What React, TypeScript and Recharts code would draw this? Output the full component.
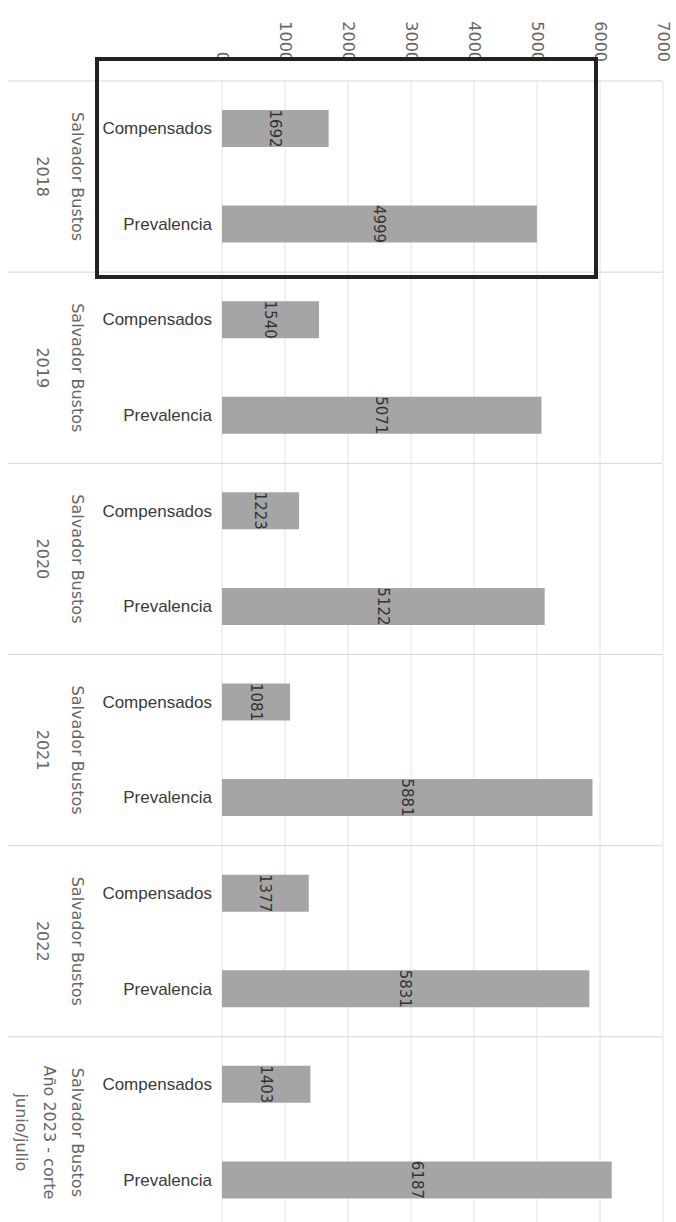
import { BarChart, Bar, XAxis, YAxis, CartesianGrid, LabelList } from 'recharts';

// outer group labels, one list of lines per group
const groupLabels: string[][] = [
  ['Salvador Bustos', '2018'],
  ['Salvador Bustos', '2019'],
  ['Salvador Bustos', '2020'],
  ['Salvador Bustos', '2021'],
  ['Salvador Bustos', '2022'],
  ['Salvador Bustos', 'Año 2023 - corte', 'junio/julio'],
];
const seriesNames = ['Compensados', 'Prevalencia'];
const compensados = [1692, 1540, 1223, 1081, 1377, 1403];
const prevalencia = [4999, 5071, 5122, 5881, 5831, 6187];
const xTicks = [0, 1000, 2000, 3000, 4000, 5000, 6000, 7000];

const rows = groupLabels.flatMap((g, i) => [
  { name: seriesNames[0], group: i, value: compensados[i] },
  { name: seriesNames[1], group: i, value: prevalencia[i] },
]);

const W = 676;
const H = 1228;

const XTick = ({ x, y, payload }: any) => (
  <text
    transform={`translate(${x},${y}) rotate(90)`}
    textAnchor="end"
    dominantBaseline="central"
    fontSize={16}
    fontFamily="DejaVu Sans"
    fill="#666"
  >
    {payload.value}
  </text>
);

const YTick = ({ x, y, payload }: any) => {
  const half = payload.offset || 47.5;
  const row = rows[payload.index];
  const first = payload.index % 2 === 0;
  const lines = groupLabels[row.group];
  const step = lines.length > 2 ? 28 : 35;
  const gy = y + half; // centre of the group (between its two bars)
  return (
    <g>
      <text
        x={x}
        y={y}
        textAnchor="end"
        dominantBaseline="central"
        fontSize={17}
        fontFamily="Liberation Sans"
        fill="#3a3a3a"
      >
        {payload.value}
      </text>
      {first && (
        <>
          <line x1={8} x2={662} y1={y - half} y2={y - half} stroke="#d6d6d6" />
          {lines.map((t, k) => (
            <text
              key={k}
              transform={`translate(${77 - k * step},${gy}) rotate(90)`}
              textAnchor="middle"
              dominantBaseline="central"
              fontSize={16}
              fontFamily="DejaVu Sans"
              fill="#666"
            >
              {t}
            </text>
          ))}
        </>
      )}
    </g>
  );
};

export default function App() {
  return (
    <div style={{ position: 'absolute', left: 0, top: 0, width: W, height: 1222, overflow: 'hidden', background: '#fff' }}>
      <BarChart
        width={W}
        height={H}
        data={rows}
        layout="vertical"
        margin={{ top: 0, right: 13, bottom: 0, left: 0 }}
        barSize={37}
      >
        <CartesianGrid horizontal={false} stroke="#e2e2e2" />
        <XAxis
          type="number"
          orientation="top"
          domain={[0, 7000]}
          ticks={xTicks}
          height={81}
          axisLine={false}
          tickLine={false}
          tickSize={0}
          tickMargin={19}
          tick={<XTick />}
          interval={0}
        />
        <YAxis
          type="category"
          dataKey="name"
          width={222}
          axisLine={false}
          tickLine={false}
          tickSize={0}
          tickMargin={10}
          tick={<YTick />}
          interval={0}
        />
        <Bar dataKey="value" fill="#a5a5a5" isAnimationActive={false}>
          <LabelList
            dataKey="value"
            position="center"
            angle={90}
            fontSize={15}
            fontFamily="DejaVu Sans"
            fill="#333"
          />
        </Bar>
      </BarChart>
      <div
        style={{
          position: 'absolute',
          left: 95,
          top: 57,
          width: 503,
          height: 222,
          boxSizing: 'border-box',
          border: '4px solid #222',
        }}
      />
    </div>
  );
}
